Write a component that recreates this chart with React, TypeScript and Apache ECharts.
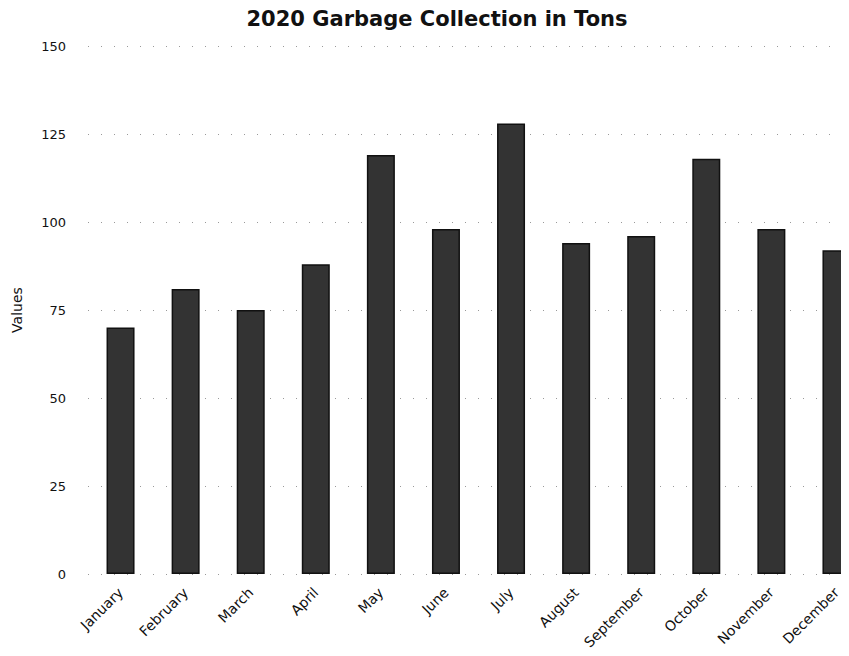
import React, { useEffect, useRef } from "react";
import * as echarts from "echarts";

const title = "2020 Garbage Collection in Tons";
const months = ["January", "February", "March", "April", "May", "June", "July", "August", "September", "October", "November", "December"];
const tons = [70, 81, 75, 88, 119, 98, 128, 94, 96, 118, 98, 92];
const yName = "Values";

export default function App() {
  const ref = useRef<HTMLDivElement>(null);
  useEffect(() => {
    const chart = echarts.init(ref.current!, null, { renderer: "svg" });
    const font = "'DejaVu Sans', 'Noto Sans', sans-serif";
    chart.setOption({
      animation: false,
      backgroundColor: "#ffffff",
      title: {
        text: title,
        left: 432,
        textAlign: "center",
        top: 3,
        textStyle: { fontFamily: font, fontSize: 21, fontWeight: "bold", color: "#111" },
      },
      grid: { left: 88, right: 0, top: 46, bottom: 82 },
      xAxis: {
        type: "category",
        data: months,
        axisLine: { show: false },
        axisTick: { show: false },
        axisLabel: { rotate: 45, fontFamily: font, fontSize: 14, color: "#111", margin: 16, interval: 0 },
      },
      yAxis: {
        type: "value",
        min: 0,
        max: 150,
        interval: 25,
        name: yName,
        nameLocation: "middle",
        nameGap: 64,
        nameTextStyle: { fontFamily: font, fontSize: 14, color: "#111" },
        axisLine: { show: false },
        axisTick: { show: false },
        axisLabel: { fontFamily: font, fontSize: 13, color: "#111", margin: 22 },
        splitLine: { show: true, lineStyle: { color: "#999", type: [1, 12], width: 1 } },
      },
      series: [
        {
          type: "bar",
          data: tons,
          barWidth: 28,
          itemStyle: { color: "#333333", borderColor: "#111", borderWidth: 1.5 },
        },
      ],
    });
    return () => chart.dispose();
  }, []);
  return (
    <div style={{ width: 849, height: 656, marginLeft: -8, marginTop: -8, overflow: "hidden" }}>
      <div ref={ref} style={{ width: 869, height: 656 }} />
    </div>
  );
}
